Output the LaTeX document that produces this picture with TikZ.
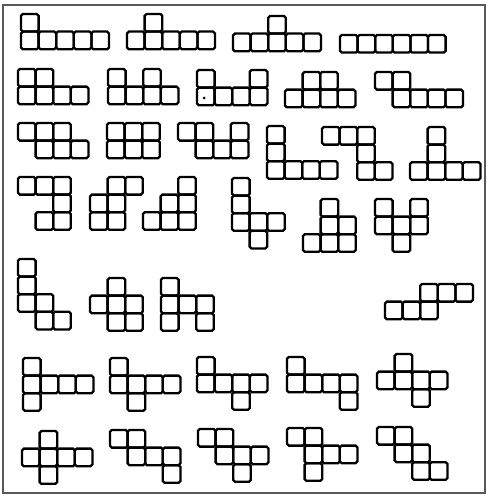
\documentclass[tikz,border=0pt]{standalone}
\usepackage{tikz}
\newcommand{\cellsz}{17.6}
% one hexomino: shift, then list of col/row cells
\newcommand{\hexomino}[2]{%
  \begin{scope}[shift={#1}]
    \foreach \c/\r in {#2} \draw[cell] (\c*\cellsz,\r*\cellsz) rectangle ++(\cellsz,\cellsz);
  \end{scope}}

\begin{document}
\begin{tikzpicture}[x=1pt,y=-1pt,
  cell/.style={draw=black,line width=2.3pt,rounded corners=1.8pt},
  frame/.style={draw=black!65,line width=1.3pt}]
  \useasboundingbox (0,0) rectangle (488,495);
  \draw[frame] (3,5) rectangle (485,493);
  % row 1
  \hexomino{(21,14)}{0/0,0/1,1/1,2/1,3/1,4/1}
  \hexomino{(127,14)}{1/0,0/1,1/1,2/1,3/1,4/1}
  \hexomino{(233,16)}{2/0,0/1,1/1,2/1,3/1,4/1}
  \hexomino{(340,35)}{0/0,1/0,2/0,3/0,4/0,5/0}
  % row 2
  \hexomino{(18,69)}{0/0,1/0,0/1,1/1,2/1,3/1}
  \hexomino{(108,69)}{0/0,2/0,0/1,1/1,2/1,3/1}
  \hexomino{(197,70)}{0/0,3/0,0/1,1/1,2/1,3/1}
  \fill (204,98) circle (1.5pt);
  \hexomino{(285,72)}{1/0,2/0,0/1,1/1,2/1,3/1}
  \hexomino{(375,72)}{0/0,1/0,1/1,2/1,3/1,4/1}
  % row 3
  \hexomino{(18,123)}{0/0,1/0,2/0,1/1,2/1,3/1}
  \hexomino{(107,123)}{0/0,1/0,2/0,0/1,1/1,2/1}
  \hexomino{(178,123)}{0/0,1/0,3/0,1/1,2/1,3/1}
  \hexomino{(267,126)}{0/0,0/1,0/2,1/2,2/2,3/2}
  \hexomino{(322,127)}{0/0,1/0,2/0,2/1,2/2,3/2}
  \hexomino{(410,127)}{1/0,1/1,0/2,1/2,2/2,3/2}
  % row 4
  \hexomino{(18,177)}{0/0,1/0,2/0,2/1,1/2,2/2}
  \hexomino{(90,177)}{1/0,2/0,0/1,1/1,0/2,1/2}
  \hexomino{(143,177)}{2/0,1/1,2/1,0/2,1/2,2/2}
  \hexomino{(232,178)}{0/0,0/1,0/2,1/2,2/2,1/3}
  \hexomino{(303,199)}{1/0,1/1,2/1,0/2,1/2,2/2}
  \hexomino{(375,199)}{0/0,2/0,0/1,1/1,2/1,1/2}
  % row 5
  \hexomino{(18,259)}{0/0,0/1,0/2,1/2,1/3,2/3}
  \hexomino{(90,278)}{1/0,0/1,1/1,2/1,1/2,2/2}
  \hexomino{(161,278)}{0/0,0/1,1/1,2/1,0/2,2/2}
  \hexomino{(385,284)}{2/0,3/0,4/0,0/1,1/1,2/1}
  % row 6
  \hexomino{(23,358)}{0/0,0/1,1/1,2/1,3/1,0/2}
  \hexomino{(110,358)}{0/0,0/1,1/1,2/1,3/1,1/2}
  \hexomino{(197,357)}{0/0,0/1,1/1,2/1,3/1,2/2}
  \hexomino{(287,357)}{0/0,0/1,1/1,2/1,3/1,3/2}
  \hexomino{(377,354)}{1/0,0/1,1/1,2/1,3/1,2/2}
  % row 7
  \hexomino{(22,431)}{1/0,0/1,1/1,2/1,3/1,1/2}
  \hexomino{(110,430)}{0/0,1/0,1/1,2/1,3/1,3/2}
  \hexomino{(198,429)}{0/0,1/0,1/1,2/1,3/1,2/2}
  \hexomino{(287,428)}{0/0,1/0,1/1,2/1,3/1,1/2}
  \hexomino{(377,427)}{0/0,1/0,1/1,2/1,2/2,3/2}
\end{tikzpicture}
\end{document}
